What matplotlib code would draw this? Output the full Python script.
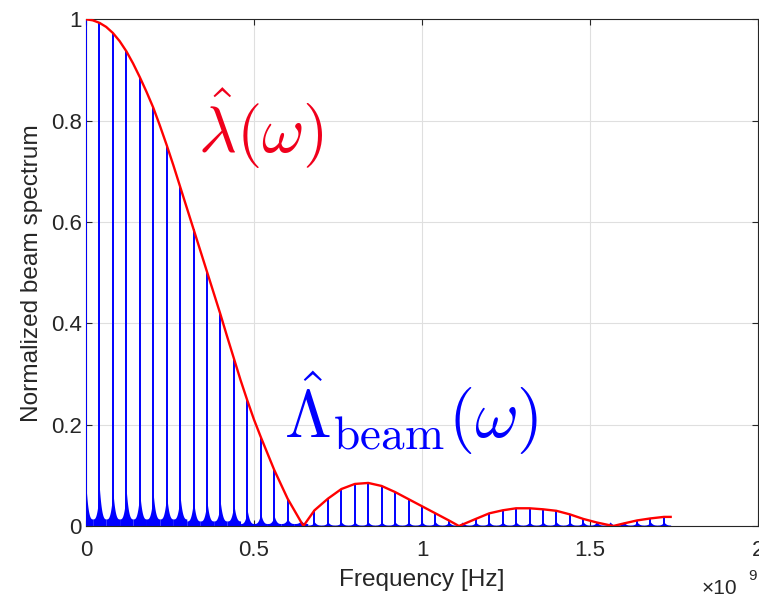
import numpy as np
import matplotlib.pyplot as plt
from matplotlib.ticker import FixedLocator, FuncFormatter

plt.rcParams["font.family"] = ["Liberation Sans", "DejaVu Sans"]

# comb lines of the beam spectrum (GHz) and their heights
line_ghz = [0.00, 0.04, 0.08, 0.12, 0.16, 0.20, 0.24, 0.28, 0.32, 0.36, 0.40,
            0.44, 0.48, 0.52, 0.56, 0.60, 0.64, 0.68, 0.72, 0.76, 0.80, 0.84,
            0.88, 0.92, 0.96, 1.00, 1.04, 1.08, 1.12, 1.16, 1.20, 1.24, 1.28,
            1.32, 1.36, 1.40, 1.44, 1.48, 1.52, 1.56, 1.60, 1.64, 1.68, 1.72]
line_val = [1.000, 0.993, 0.973, 0.937, 0.886, 0.826, 0.752, 0.670, 0.586,
            0.502, 0.418, 0.331, 0.248, 0.176, 0.111, 0.054, 0.006, 0.031,
            0.054, 0.073, 0.083, 0.085, 0.079, 0.067, 0.053, 0.039, 0.025,
            0.011, 0.003, 0.014, 0.025, 0.031, 0.035, 0.035, 0.033, 0.030,
            0.023, 0.014, 0.007, 0.001, 0.005, 0.011, 0.015, 0.018]
# leakage around the foot of each line: cusp height and floor between lines
cusp_val = [0.065, 0.060, 0.055, 0.055, 0.052, 0.050, 0.048, 0.046, 0.042,
            0.040, 0.036, 0.034, 0.026, 0.020, 0.015, 0.010, 0.006] + [0.006] * 27
floor_val = [0.014] * 8 + [0.010] * 4 + [0.005] * 5 + [0.002] * 27

# single-bunch envelope (GHz, value)
env_ghz = [0.00, 0.02, 0.04, 0.06, 0.08, 0.10, 0.12, 0.14, 0.16, 0.18, 0.20,
           0.22, 0.24, 0.26, 0.28, 0.30, 0.32, 0.34, 0.36, 0.38, 0.40, 0.42,
           0.44, 0.46, 0.48, 0.50, 0.52, 0.56, 0.60, 0.647, 0.68, 0.72, 0.76,
           0.80, 0.84, 0.88, 0.92, 0.96, 1.00, 1.04, 1.08, 1.110, 1.16, 1.20,
           1.24, 1.28, 1.32, 1.36, 1.40, 1.44, 1.48, 1.52, 1.569, 1.60, 1.64,
           1.68, 1.72, 1.74]
env_val = [1.000, 0.998, 0.993, 0.985, 0.973, 0.957, 0.937, 0.913, 0.886,
           0.857, 0.826, 0.790, 0.752, 0.712, 0.670, 0.628, 0.586, 0.544,
           0.502, 0.460, 0.418, 0.374, 0.331, 0.288, 0.248, 0.210, 0.176,
           0.111, 0.054, 0.000, 0.031, 0.054, 0.073, 0.083, 0.085, 0.079,
           0.067, 0.053, 0.039, 0.025, 0.011, 0.000, 0.014, 0.025, 0.031,
           0.035, 0.035, 0.033, 0.030, 0.023, 0.014, 0.007, 0.000, 0.005,
           0.011, 0.015, 0.018, 0.018]

x_ticks = [0, 0.5e9, 1e9, 1.5e9, 2e9]
y_ticks = [0, 0.2, 0.4, 0.6, 0.8, 1.0]

BLUE = "#0000ff"
RED = "#ff0000"
INK = "#262626"

fig = plt.figure(figsize=(7.59, 5.97), dpi=100)
ax = fig.add_axes([0.1133, 0.1189, 0.8854, 0.8488])

f_lines = np.array(line_ghz) * 1e9
half_w = (f_lines[1] - f_lines[0]) / 2
u = np.linspace(-1, 1, 41)
for f, c, fl in zip(f_lines, cusp_val, floor_val):
    ax.fill_between(f + u * half_w, 0, fl + c * (1 - np.abs(u)) ** 3,
                    color=BLUE, lw=0, zorder=2)
ax.vlines(f_lines, 0, line_val, colors=BLUE, lw=1.4, zorder=3)
ax.plot(np.array(env_ghz) * 1e9, env_val, color=RED, lw=1.7, zorder=4)

ax.text(0.333e9, 0.736, r"$\hat{\lambda}(\omega)$", color="#f0001c",
        fontsize=47, math_fontfamily="cm", ha="left", va="baseline")
ax.text(0.590e9, 0.174, r"$\hat{\Lambda}_{\mathrm{beam}}(\omega)$", color=BLUE,
        fontsize=48.5, math_fontfamily="cm", ha="left", va="baseline")

ax.set_xlim(0, 2e9)
ax.set_ylim(0, 1)
ax.xaxis.set_major_locator(FixedLocator(x_ticks))
ax.yaxis.set_major_locator(FixedLocator(y_ticks))
ax.xaxis.set_major_formatter(FuncFormatter(lambda v, p: f"{v / 1e9:g}"))
ax.yaxis.set_major_formatter(FuncFormatter(lambda v, p: f"{v:g}"))
ax.tick_params(direction="in", top=True, right=True, length=4, width=0.8,
               color=INK, labelcolor=INK, labelsize=16)
ax.tick_params(axis="x", pad=10)
ax.tick_params(axis="y", pad=3)
ax.grid(color="#dfdfdf", lw=0.8)
ax.set_axisbelow(True)
for sp in ax.spines.values():
    sp.set_color(INK)
    sp.set_linewidth(0.8)

ax.set_xlabel("Frequency [Hz]", fontsize=17.6, color=INK, labelpad=6)
ax.set_ylabel("Normalized beam spectrum", fontsize=17.6, color=INK, labelpad=6)

fig.text(702 / 759, 3 / 597, "×10", fontsize=15, color=INK,
         ha="left", va="baseline")
fig.text(748 / 759, 17 / 597, "9", fontsize=11, color=INK,
         ha="left", va="baseline")

fig.savefig("out.png", dpi=100)
